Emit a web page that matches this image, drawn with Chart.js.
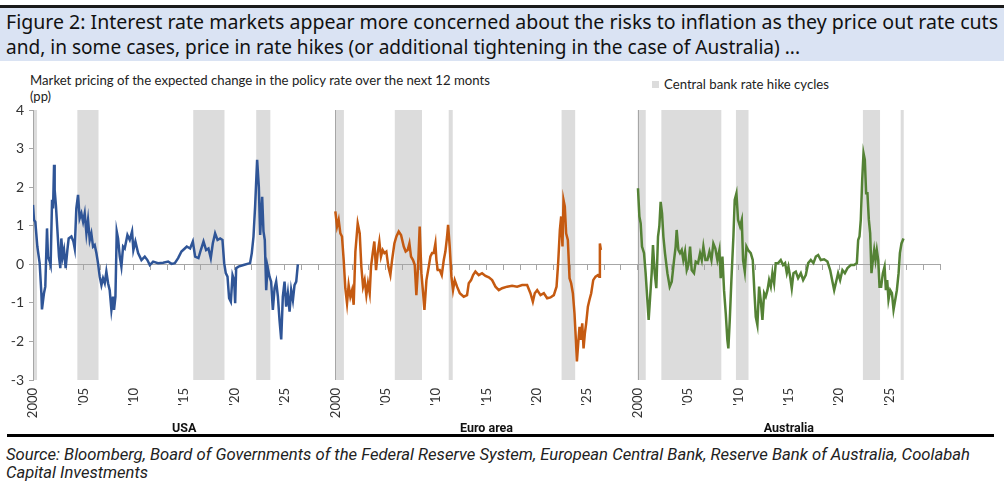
<!DOCTYPE html>
<html>
<head>
<meta charset="utf-8">
<script src="https://cdn.jsdelivr.net/npm/chart.js@4.4.1/dist/chart.umd.min.js"></script>
<style>
  html, body { margin: 0; padding: 0; background: #fff; }
  body { width: 1004px; height: 487px; position: relative; overflow: hidden; font-family: Lato, sans-serif; color: #222; }
  .fit { position: absolute; white-space: nowrap; transform-origin: left center; }
  #topRule { position: absolute; left: 0; top: 5px; width: 1004px; height: 3px; background: #1a1a1a; }
  #title { position: absolute; left: 0; top: 8px; width: 1004px; height: 53px; background: #dae3f3;
           font-family: "Noto Sans", sans-serif; font-size: 19.5px; line-height: 26px; color: #111; }
  #axisTitle, #legend { font-size: 13px; line-height: 16px; color: #222; }
  #legendBox { position: absolute; left: 652px; top: 81px; width: 7px; height: 7px; background: #dcdcdc; }
  #wrap { position: absolute; left: 0; top: 62px; width: 1004px; height: 372px; }
  #bottomRule { position: absolute; left: 7px; top: 434px; width: 987px; height: 3px; background: #000; }
  #source { font-family: Roboto, sans-serif; font-style: italic; font-size: 16.5px; line-height: 20px; color: #222; }
</style>
</head>
<body>
<div id="topRule"></div>
<div id="title">
  <span class="fit" data-w="992" style="left:6px;top:1px">Figure 2: Interest rate markets appear more concerned about the risks to inflation as they price out rate cuts</span>
  <span class="fit" data-w="794" style="left:6px;top:26px">and, in some cases, price in rate hikes (or additional tightening in the case of Australia) ...</span>
</div>
<div id="axisTitle">
  <span class="fit" data-w="460" style="left:30px;top:72px">Market pricing of the expected change in the policy rate over the next 12 monts</span>
  <span class="fit" style="left:30px;top:88px">(pp)</span>
</div>
<div id="legendBox"></div>
<div id="legend"><span class="fit" data-w="165" style="left:664px;top:76px">Central bank rate hike cycles</span></div>
<div id="wrap"><canvas id="chart"></canvas></div>
<div id="bottomRule"></div>
<div id="source">
  <span class="fit" data-w="964" style="left:6px;top:445px">Source: Bloomberg, Board of Governments of the Federal Reserve System, European Central Bank, Reserve Bank of Australia, Coolabah</span>
  <span class="fit" data-w="142" style="left:6px;top:463px">Capital Investments</span>
</div>

<script>
// Panels: USA, Euro area, Australia. Each panel spans 30 years starting in 2000.
const panelNames = ['USA', 'Euro area', 'Australia'];
const panelOffsets = [0, 30, 60];
const tickLabels = ['2000', "'05", "'10", "'15", "'20", "'25"];

const seriesColors = ['#2f5597', '#c55a11', '#548235'];
const hikeColor = '#dcdcdc';
const axisColor = '#a6a6a6';

// Years since 2000 / expected change in policy rate (pp)
const usaT = [0.00,0.10,0.23,0.43,0.66,0.83,0.89,1.09,1.22,1.39,
  1.49,1.66,1.75,1.89,1.99,2.09,2.15,2.28,2.42,2.58,
  2.71,2.81,2.95,3.08,3.24,3.41,3.54,3.81,4.01,4.14,
  4.30,4.47,4.63,4.80,4.97,5.13,5.30,5.46,5.63,5.79,
  5.96,6.12,6.29,6.45,6.62,6.79,6.95,7.12,7.28,7.45,
  7.61,7.78,7.94,8.04,8.18,8.31,8.44,8.61,8.77,8.94,
  9.10,9.37,9.60,9.83,9.96,10.16,10.43,10.76,11.09,11.35,
  11.59,11.92,12.41,12.91,13.41,13.74,14.07,14.40,14.73,15.06,
  15.26,15.59,15.86,16.09,16.42,16.65,16.92,17.18,17.41,17.64,
  17.84,18.07,18.31,18.57,18.80,18.97,19.13,19.30,19.46,19.63,
  19.80,19.96,20.06,20.16,20.39,20.89,21.54,21.71,21.88,22.04,
  22.24,22.41,22.54,22.74,22.87,23.00,23.14,23.27,23.47,23.63,
  23.80,23.97,24.13,24.30,24.46,24.63,24.79,24.96,25.12,25.29,
  25.46,25.62,25.79,25.95,26.12,26.28];
const usaV = [1.54,1.15,1.10,0.46,0.03,-0.75,-1.17,-0.75,-0.58,0.93,
  0.20,0.07,-0.02,1.67,1.45,2.58,1.93,1.50,0.89,0.20,
  -0.10,0.67,0.20,0.37,-0.10,0.37,0.67,0.72,0.59,0.41,
  1.45,1.80,1.19,1.32,1.10,1.32,0.80,1.15,0.63,0.80,
  0.46,0.50,0.29,0.03,-0.32,-0.54,-0.36,-0.49,-0.19,-0.49,
  -0.67,-1.18,-0.84,-1.18,-0.84,0.85,0.67,0.20,-0.06,0.46,
  0.41,0.76,0.63,0.85,0.37,0.59,0.29,0.11,0.20,0.11,
  -0.02,0.07,0.03,0.04,0.07,0.01,0.03,0.16,0.33,0.41,
  0.46,0.41,0.59,0.20,0.16,0.37,0.59,0.37,0.41,0.16,
  0.54,0.80,0.63,0.67,0.63,0.03,-0.23,-0.32,-0.88,-0.97,
  -0.28,-0.41,-1.01,-0.10,-0.06,-0.02,0.03,0.29,0.72,1.50,
  2.71,2.00,0.76,1.75,0.85,0.63,-0.67,-0.06,-0.32,-0.45,
  -1.18,-0.62,-0.45,-0.84,-1.44,-1.95,-0.84,-0.45,-1.10,-0.75,
  -1.23,-0.67,-0.93,-0.54,-0.45,0.00];

const euroT = [0.00,0.17,0.33,0.50,0.66,0.83,0.99,1.16,1.32,1.49,
  1.66,1.82,1.99,2.22,2.42,2.58,2.75,2.91,3.08,3.24,
  3.41,3.54,3.71,3.87,4.04,4.20,4.37,4.53,4.70,4.87,
  5.06,5.26,5.46,5.63,5.86,6.06,6.29,6.52,6.79,6.98,
  7.18,7.35,7.51,7.71,7.88,8.04,8.21,8.37,8.54,8.71,
  8.84,9.04,9.27,9.43,9.60,9.76,9.93,10.03,10.16,10.36,
  10.56,10.76,10.92,11.09,11.19,11.35,11.52,11.68,11.85,12.08,
  12.35,12.74,13.07,13.24,13.47,13.67,13.90,14.23,14.56,14.90,
  15.23,15.56,15.89,16.22,16.55,17.05,17.54,18.04,18.54,19.03,
  19.36,19.60,19.79,20.03,20.36,20.69,21.02,21.35,21.68,21.95,
  22.11,22.28,22.41,22.54,22.64,22.77,22.90,23.07,23.24,23.40,
  23.57,23.73,23.87,23.97,24.10,24.23,24.36,24.50,24.63,24.76,
  24.89,25.06,25.22,25.39,25.59,25.82,26.05,26.18,26.25,26.35];
const euroV = [1.37,0.98,1.15,0.80,0.72,0.11,-0.62,-1.01,-0.54,-0.84,
  -0.67,-1.05,0.33,1.06,0.80,-0.06,-0.58,-0.41,-0.80,-0.49,
  -0.75,-0.06,0.29,0.59,-0.15,0.29,0.59,0.20,0.37,0.29,
  0.33,-0.06,-0.28,0.11,0.54,0.72,0.85,0.76,0.46,0.33,
  0.37,0.54,0.20,0.11,-0.02,-0.80,-0.06,0.98,-0.23,-0.75,
  -1.18,-0.41,-0.06,0.20,0.29,0.29,0.54,0.11,-0.15,-0.15,
  -0.28,0.11,0.33,0.72,1.02,0.46,-0.32,-0.67,-0.41,-0.58,
  -0.75,-0.84,-0.80,-0.49,-0.41,-0.28,-0.19,-0.28,-0.23,-0.30,
  -0.34,-0.41,-0.58,-0.67,-0.62,-0.58,-0.56,-0.58,-0.54,-0.54,
  -0.75,-0.97,-0.75,-0.67,-0.80,-0.75,-0.88,-0.86,-0.80,-0.58,
  0.03,0.89,1.24,0.46,1.67,1.50,0.80,0.63,-0.36,-0.49,
  -0.75,-1.27,-1.96,-2.52,-2.05,-1.62,-1.96,-1.53,-2.18,-1.79,
  -1.53,-1.10,-0.92,-0.75,-0.41,-0.32,-0.28,-0.32,0.54,0.37];

const ausT = [0.03,0.17,0.30,0.43,0.63,0.79,0.96,1.09,1.22,1.39,
  1.52,1.69,1.85,2.02,2.15,2.28,2.42,2.55,2.71,2.95,
  3.18,3.38,3.61,3.77,3.87,4.04,4.20,4.37,4.53,4.70,
  4.87,5.03,5.20,5.36,5.59,5.76,5.99,6.19,6.36,6.52,
  6.72,6.92,7.12,7.32,7.51,7.71,7.91,8.11,8.24,8.41,
  8.57,8.74,8.90,9.00,9.14,9.30,9.50,9.63,9.80,9.96,
  10.16,10.33,10.46,10.63,10.79,10.96,11.22,11.42,11.59,11.72,
  11.88,12.05,12.21,12.38,12.55,12.71,12.88,13.04,13.21,13.37,
  13.54,13.70,13.94,14.20,14.43,14.63,14.80,14.96,15.13,15.29,
  15.46,15.69,15.92,16.19,16.42,16.68,16.92,17.18,17.44,17.68,
  17.91,18.17,18.50,18.83,19.10,19.33,19.50,19.66,19.89,20.09,
  20.32,20.56,20.82,21.15,21.48,21.75,21.88,22.01,22.14,22.28,
  22.41,22.54,22.67,22.80,22.94,23.07,23.20,23.34,23.47,23.60,
  23.73,23.87,24.00,24.16,24.33,24.50,24.63,24.76,24.89,25.06,
  25.23,25.39,25.56,25.72,25.89,26.02,26.18,26.38];
const ausV = [1.97,1.24,1.06,0.46,0.29,-0.23,-0.92,-1.44,-0.92,-0.23,
  0.50,-0.23,-0.62,0.72,0.98,1.62,1.32,0.72,0.29,-0.23,
  -0.58,-0.45,0.11,0.46,0.89,0.37,0.29,0.37,0.11,0.33,
  -0.15,-0.02,0.46,-0.15,-0.23,0.07,0.03,0.29,0.11,0.46,
  0.11,0.11,0.33,0.11,0.54,0.41,0.11,0.37,-0.36,0.20,
  -0.67,-1.27,-1.96,-2.18,-1.44,-0.41,0.72,1.67,1.84,1.15,
  0.98,1.15,0.11,-0.19,0.46,0.37,0.29,0.11,-0.75,-1.36,
  -1.57,-0.58,-0.92,-1.44,-0.75,-0.84,-0.67,-0.41,-0.58,-0.23,
  -0.49,0.03,0.03,0.11,-0.02,0.03,-0.23,-0.06,-0.32,-0.62,
  -0.23,-0.19,-0.36,-0.23,-0.41,-0.28,0.03,0.11,0.03,0.20,
  0.24,0.11,0.13,0.07,-0.15,-0.45,-0.67,-0.49,-0.23,-0.41,
  -0.15,-0.23,-0.10,-0.02,-0.02,0.03,0.63,0.72,1.15,2.19,
  2.88,2.71,1.84,1.84,1.15,0.80,-0.23,0.11,0.37,0.11,
  0.37,0.11,-0.58,-0.58,-0.23,-0.06,-0.67,-0.41,-0.92,-0.67,
  -0.75,-1.18,-0.92,-0.67,-0.23,0.29,0.54,0.67];

// Central bank rate hike cycles, [start, end] in years since 2000
const usaHikes  = [[0, 0.4], [4.4, 6.5], [15.9, 19.0], [22.15, 23.55]];
const euroHikes = [[0, 0.85], [5.9, 8.6], [11.25, 11.65], [22.45, 23.8]];
const ausHikes  = [[0, 0.8], [2.35, 8.3], [9.75, 11.0], [22.35, 24.05], [26.1, 26.4]];

const seriesT = [usaT, euroT, ausT];
const seriesV = [usaV, euroV, ausV];
const hikeSets = [usaHikes, euroHikes, ausHikes];

// stretch each text line to the width it has in the original
document.querySelectorAll('.fit[data-w]').forEach(el => {
  const w = el.getBoundingClientRect().width;
  el.style.transform = 'scaleX(' + (parseFloat(el.dataset.w) / w) + ')';
});

// shaded hike cycles + panel separators, drawn before the axes
const hikeBands = {
  id: 'hikeBands',
  beforeDraw(chart) {
    const { ctx, chartArea: a, scales: { x } } = chart;
    ctx.save();
    ctx.fillStyle = hikeColor;
    hikeSets.forEach((bands, p) => {
      bands.forEach(([s, e]) => {
        const x1 = x.getPixelForValue(s + panelOffsets[p]);
        const x2 = x.getPixelForValue(e + panelOffsets[p]);
        ctx.fillRect(x1, a.top, x2 - x1, a.bottom - a.top);
      });
    });
    ctx.strokeStyle = axisColor;
    ctx.lineWidth = 1;
    panelOffsets.slice(1).forEach(v => {
      const px = Math.round(x.getPixelForValue(v)) + 0.5;
      ctx.beginPath();
      ctx.moveTo(px, a.top);
      ctx.lineTo(px, a.bottom);
      ctx.stroke();
    });
    ctx.restore();
  }
};

const datasets = seriesT.map((ts, p) => ({
  label: panelNames[p],
  data: ts.map((t, i) => ({ x: t + panelOffsets[p], y: seriesV[p][i] })),
  borderColor: seriesColors[p],
  borderWidth: 2.5,
  pointRadius: 0,
  tension: 0,
  fill: false
}));

new Chart(document.getElementById('chart'), {
  type: 'line',
  data: { datasets },
  plugins: [hikeBands],
  options: {
    responsive: true,
    maintainAspectRatio: false,
    animation: false,
    layout: { padding: { left: 0, right: 64, top: 48, bottom: 0 } },
    plugins: { legend: { display: false }, tooltip: { enabled: false } },
    scales: {
      x: {
        type: 'linear', min: 0, max: 90, weight: 0,
        grid: { display: false, drawTicks: false },
        border: { display: false },
        afterFit(s) { s.height = 40; },
        ticks: {
          stepSize: 5, autoSkip: false, minRotation: 90, maxRotation: 90, padding: 8,
          color: '#333', font: { family: 'Lato', size: 13 },
          callback: v => (v >= 90 ? '' : tickLabels[Math.round(v % 30 / 5)])
        }
      },
      xp: {
        type: 'linear', axis: 'x', position: 'bottom', min: 0, max: 90, weight: 1,
        grid: { display: false, drawTicks: false },
        border: { display: false },
        afterFit(s) { s.height = 14; },
        afterBuildTicks(s) { s.ticks = panelOffsets.map(v => ({ value: v + 15 })); },
        ticks: {
          padding: 1, color: '#111', maxRotation: 0, autoSkip: false,
          font: { family: 'Roboto', size: 12.5, weight: 'bold' },
          callback: (v, i) => panelNames[i]
        }
      },
      x0: {
        type: 'linear', axis: 'x', position: { y: 0 }, min: 0, max: 90,
        grid: { drawOnChartArea: false, drawTicks: true, tickLength: 5, color: axisColor },
        border: { display: true, color: axisColor, width: 1 },
        ticks: { display: false, stepSize: 5 / 3 }
      },
      y: {
        min: -3, max: 4,
        grid: { drawOnChartArea: false, drawTicks: true, tickLength: 4, color: axisColor },
        border: { display: true, color: axisColor, width: 1 },
        afterFit(s) { s.width = 33; },
        ticks: { stepSize: 1, padding: 5, color: '#333', font: { family: 'Lato', size: 14 } }
      }
    }
  }
});
</script>
</body>
</html>
